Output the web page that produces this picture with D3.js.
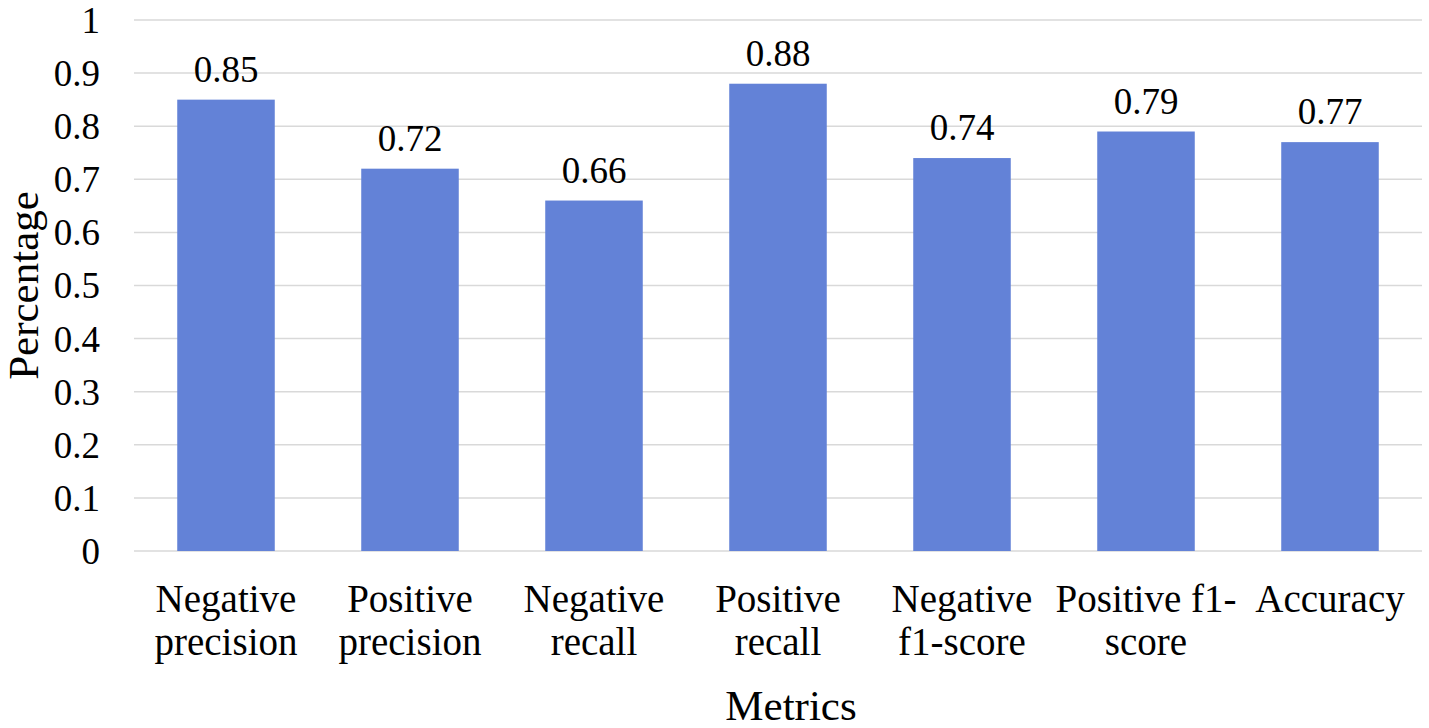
<!DOCTYPE html>
<html>
<head>
<meta charset="utf-8">
<script src="https://cdn.jsdelivr.net/npm/d3@7"></script>
<style>
    body { margin: 0; background: #fff; }
    text { font-family: "Liberation Serif", "Times New Roman", serif; fill: #000; }
</style>
</head>
<body>
<div id="chart"></div>
<script>
const categories = [
    ["Negative", "precision"],
    ["Positive", "precision"],
    ["Negative", "recall"],
    ["Positive", "recall"],
    ["Negative", "f1-score"],
    ["Positive f1-", "score"],
    ["Accuracy"]
];
const values = [0.85, 0.72, 0.66, 0.88, 0.74, 0.79, 0.77];
const yTicks = [0, 0.1, 0.2, 0.3, 0.4, 0.5, 0.6, 0.7, 0.8, 0.9, 1];

const width = 1429, height = 728;
const margin = {top: 20, right: 7, bottom: 177, left: 134};

const svg = d3.select("#chart")
    .append("svg")
    .attr("width", width)
    .attr("height", height);

const x = d3.scaleBand()
    .domain(d3.range(categories.length))
    .range([margin.left, width - margin.right])
    .paddingInner(0.47)
    .paddingOuter(0.235);

const y = d3.scaleLinear()
    .domain([0, 1])
    .range([height - margin.bottom, margin.top]);

// gridlines
svg.append("g")
    .selectAll("line")
    .data(yTicks)
    .enter().append("line")
    .attr("x1", margin.left)
    .attr("x2", width - margin.right)
    .attr("y1", d => y(d))
    .attr("y2", d => y(d))
    .attr("stroke", "#d9d9d9")
    .attr("stroke-width", 1.5);

// y tick labels
svg.append("g")
    .selectAll("text")
    .data(yTicks)
    .enter().append("text")
    .attr("x", 100)
    .attr("y", d => y(d))
    .attr("dy", "0.35em")
    .attr("text-anchor", "end")
    .style("font-size", "37px")
    .text(d => d3.format("~g")(d));

// bars
svg.append("g")
    .selectAll("rect")
    .data(values)
    .enter().append("rect")
    .attr("x", (d, i) => x(i))
    .attr("y", d => y(d))
    .attr("width", x.bandwidth())
    .attr("height", d => y(0) - y(d))
    .attr("fill", "#6382d7");

// value labels
svg.append("g")
    .selectAll("text")
    .data(values)
    .enter().append("text")
    .attr("x", (d, i) => x(i) + x.bandwidth() / 2)
    .attr("y", d => y(d) - 18)
    .attr("text-anchor", "middle")
    .style("font-size", "37px")
    .text(d => d.toFixed(2));

// category labels
const cat = svg.append("g")
    .selectAll("text")
    .data(categories)
    .enter().append("text")
    .attr("x", (d, i) => x(i) + x.bandwidth() / 2)
    .attr("y", 612)
    .attr("text-anchor", "middle")
    .style("font-size", "39px");

cat.selectAll("tspan")
    .data(d => d)
    .enter().append("tspan")
    .attr("x", function() { return this.parentNode.getAttribute("x"); })
    .attr("dy", (d, i) => i === 0 ? 0 : 43)
    .text(d => d);

// axis titles
svg.append("text")
    .attr("x", 791)
    .attr("y", 720)
    .attr("text-anchor", "middle")
    .style("font-size", "43px")
    .text("Metrics");

svg.append("text")
    .attr("transform", `translate(38,${(y(0) + y(1)) / 2}) rotate(-90)`)
    .attr("text-anchor", "middle")
    .style("font-size", "43px")
    .text("Percentage");
</script>
</body>
</html>
